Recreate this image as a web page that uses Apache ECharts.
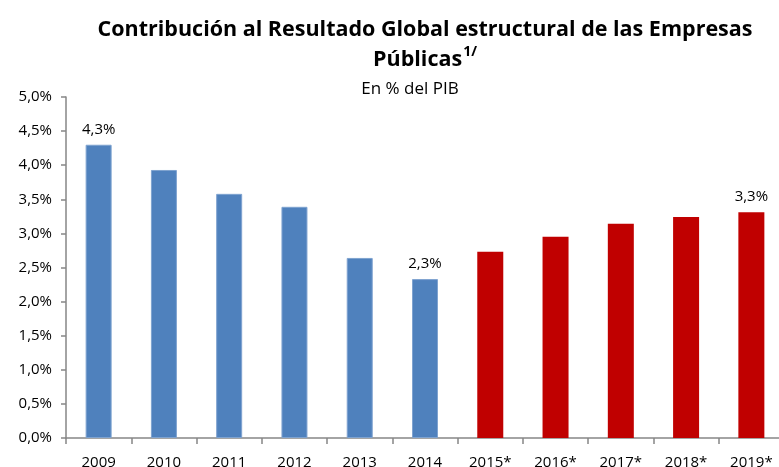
<!DOCTYPE html>
<html>
<head>
<meta charset="utf-8">
<script src="https://cdn.jsdelivr.net/npm/echarts@6/dist/echarts.min.js"></script>
<style>
  html, body { margin: 0; padding: 0; background: #fff; }
  #chart { width: 779px; height: 467px; }
</style>
</head>
<body>
<div id="chart"></div>
<script>
const years = ['2009', '2010', '2011', '2012', '2013', '2014', '2015*', '2016*', '2017*', '2018*', '2019*'];
const values = [4.30, 3.93, 3.58, 3.39, 2.64, 2.33, 2.73, 2.95, 3.14, 3.24, 3.31];
// years shown with a value label above the bar
const labeled = ['2009', '2014', '2019*'];
const firstProjected = 6; // bars from here on are projections (red)

const fmt = v => v.toFixed(1).replace('.', ',') + '%';

const chart = echarts.init(document.getElementById('chart'));

chart.setOption({
  animation: false,
  textStyle: { fontFamily: 'Open Sans' },
  title: [
    {
      text: 'Contribución al Resultado Global estructural de las Empresas\nPúblicas{sup|1/}',
      left: 420,
      textAlign: 'center',
      top: 10,
      textStyle: {
        fontSize: 21.5,
        fontWeight: 'bold',
        color: '#000',
        lineHeight: 30,
        rich: {
          sup: { fontSize: 14, fontWeight: 'bold', color: '#000', verticalAlign: 'top', lineHeight: 30, padding: [0, 0, 4, 1] }
        }
      }
    },
    {
      text: 'En % del PIB',
      left: 405,
      textAlign: 'center',
      top: 76,
      textStyle: { fontSize: 17, fontWeight: 'normal', color: '#000' }
    }
  ],
  grid: { left: 66, top: 97, bottom: 29, width: 718, outerBoundsMode: 'none' },
  xAxis: {
    type: 'category',
    data: years,
    axisLine: { lineStyle: { color: '#868686', width: 1.5 } },
    axisTick: { show: true, length: 6, lineStyle: { color: '#868686', width: 1.5 } },
    axisLabel: { color: '#000', fontSize: 15, margin: 17 }
  },
  yAxis: {
    type: 'value',
    min: 0,
    max: 5,
    interval: 0.5,
    splitLine: { show: false },
    axisLine: { show: true, lineStyle: { color: '#868686', width: 1.5 } },
    axisTick: { show: true, length: 5, lineStyle: { color: '#868686', width: 1.5 } },
    axisLabel: { color: '#000', fontSize: 15, margin: 14, formatter: fmt }
  },
  series: [
    {
      type: 'bar',
      barWidth: 26,
      data: values.map((v, i) => ({
        value: v,
        itemStyle: i >= firstProjected
          ? { color: '#C00000' }
          : { color: '#4F81BD', borderColor: '#7FA3D0', borderWidth: 1 },
        label: {
          show: labeled.includes(years[i]),
          position: 'top',
          distance: 8,
          color: '#000',
          fontSize: 15,
          formatter: p => fmt(p.value)
        }
      }))
    }
  ]
});
</script>
</body>
</html>
